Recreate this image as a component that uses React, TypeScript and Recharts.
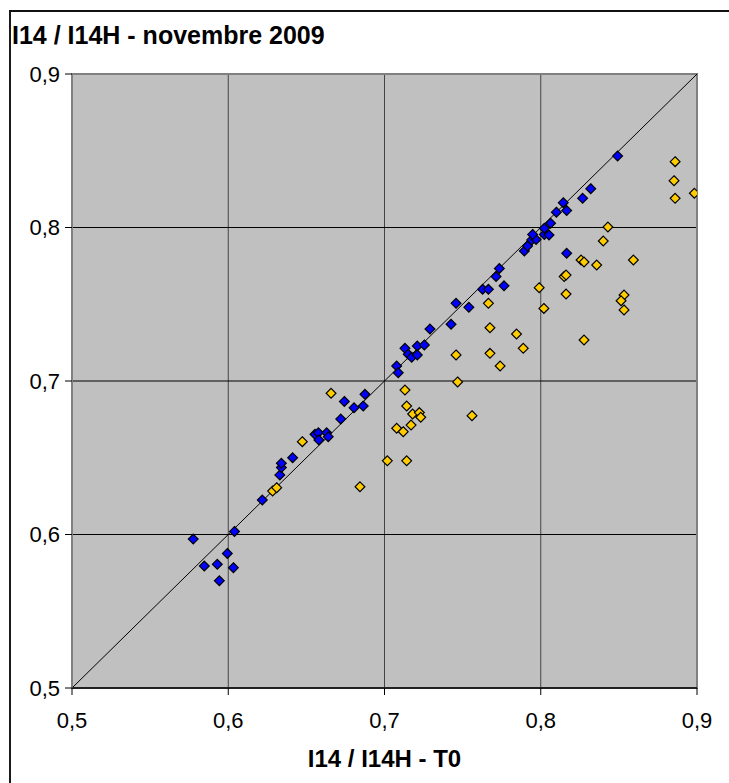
import React from "react";
import {
  ScatterChart,
  Scatter,
  XAxis,
  YAxis,
  CartesianGrid,
  ReferenceLine,
  ReferenceArea,
} from "recharts";

// I14 / I14H ratio: T0 (x) against November 2009 (y)
const blueSeries: { x: number; y: number }[] = [
  { x: 0.5776, y: 0.597 },
  { x: 0.604, y: 0.602 },
  { x: 0.5994, y: 0.5877 },
  { x: 0.5847, y: 0.5795 },
  { x: 0.593, y: 0.5806 },
  { x: 0.6033, y: 0.5784 },
  { x: 0.5943, y: 0.5699 },
  { x: 0.6218, y: 0.6225 },
  { x: 0.633, y: 0.6388 },
  { x: 0.634, y: 0.6436 },
  { x: 0.634, y: 0.6464 },
  { x: 0.6412, y: 0.65 },
  { x: 0.6555, y: 0.6653 },
  { x: 0.6577, y: 0.6663 },
  { x: 0.663, y: 0.6663 },
  { x: 0.658, y: 0.6616 },
  { x: 0.664, y: 0.6637 },
  { x: 0.672, y: 0.6752 },
  { x: 0.6743, y: 0.6867 },
  { x: 0.6805, y: 0.6826 },
  { x: 0.6864, y: 0.6837 },
  { x: 0.6875, y: 0.6913 },
  { x: 0.7078, y: 0.7098 },
  { x: 0.7088, y: 0.7054 },
  { x: 0.7131, y: 0.7213 },
  { x: 0.7152, y: 0.7174 },
  { x: 0.7174, y: 0.7154 },
  { x: 0.721, y: 0.7228 },
  { x: 0.721, y: 0.717 },
  { x: 0.7255, y: 0.7235 },
  { x: 0.7291, y: 0.7339 },
  { x: 0.7426, y: 0.737 },
  { x: 0.7458, y: 0.7506 },
  { x: 0.754, y: 0.748 },
  { x: 0.7628, y: 0.7597 },
  { x: 0.7665, y: 0.7597 },
  { x: 0.7765, y: 0.762 },
  { x: 0.7714, y: 0.768 },
  { x: 0.7735, y: 0.7733 },
  { x: 0.7895, y: 0.7847 },
  { x: 0.7916, y: 0.788 },
  { x: 0.7942, y: 0.7919 },
  { x: 0.797, y: 0.7922 },
  { x: 0.7948, y: 0.7955 },
  { x: 0.8023, y: 0.7955 },
  { x: 0.8053, y: 0.7951 },
  { x: 0.8023, y: 0.7995 },
  { x: 0.8063, y: 0.8028 },
  { x: 0.81, y: 0.81 },
  { x: 0.8166, y: 0.811 },
  { x: 0.8144, y: 0.8162 },
  { x: 0.8268, y: 0.819 },
  { x: 0.832, y: 0.8253 },
  { x: 0.8492, y: 0.8466 },
  { x: 0.8166, y: 0.7832 },
];

const yellowSeries: { x: number; y: number }[] = [
  { x: 0.6284, y: 0.6283 },
  { x: 0.631, y: 0.6305 },
  { x: 0.6474, y: 0.6605 },
  { x: 0.6658, y: 0.692 },
  { x: 0.6843, y: 0.6311 },
  { x: 0.7018, y: 0.648 },
  { x: 0.7142, y: 0.648 },
  { x: 0.7078, y: 0.6692 },
  { x: 0.712, y: 0.667 },
  { x: 0.717, y: 0.6713 },
  { x: 0.718, y: 0.6785 },
  { x: 0.7223, y: 0.6794 },
  { x: 0.7232, y: 0.6764 },
  { x: 0.7142, y: 0.6837 },
  { x: 0.7131, y: 0.6941 },
  { x: 0.7468, y: 0.6994 },
  { x: 0.756, y: 0.6774 },
  { x: 0.7458, y: 0.717 },
  { x: 0.7675, y: 0.718 },
  { x: 0.774, y: 0.7098 },
  { x: 0.7888, y: 0.7213 },
  { x: 0.7845, y: 0.7306 },
  { x: 0.7675, y: 0.7347 },
  { x: 0.7665, y: 0.7506 },
  { x: 0.799, y: 0.7608 },
  { x: 0.802, y: 0.7473 },
  { x: 0.8162, y: 0.7567 },
  { x: 0.815, y: 0.768 },
  { x: 0.8162, y: 0.769 },
  { x: 0.8277, y: 0.7267 },
  { x: 0.8258, y: 0.7788 },
  { x: 0.8277, y: 0.7775 },
  { x: 0.8358, y: 0.7756 },
  { x: 0.8593, y: 0.7788 },
  { x: 0.8533, y: 0.756 },
  { x: 0.8514, y: 0.7523 },
  { x: 0.8533, y: 0.7463 },
  { x: 0.84, y: 0.7912 },
  { x: 0.843, y: 0.8003 },
  { x: 0.886, y: 0.8429 },
  { x: 0.8853, y: 0.8305 },
  { x: 0.886, y: 0.819 },
  { x: 0.8983, y: 0.8223 },
];

const axisTicks = [0.5, 0.6, 0.7, 0.8, 0.9];
const axisDomain: [number, number] = [0.5, 0.9];
const chartTitle = "I14 / I14H - novembre 2009";
const xAxisTitle = "I14 / I14H - T0";

const FONT = "Arial, 'Liberation Sans', sans-serif";
const formatTick = (v: number) => v.toFixed(1).replace(".", ",");

const makeDiamond = (fill: string) => (props: any) => {
  const { cx, cy } = props;
  if (cx == null || cy == null) return <g />;
  const r = 4.9;
  return (
    <polygon
      points={`${cx},${cy - r} ${cx + r},${cy} ${cx},${cy + r} ${cx - r},${cy}`}
      fill={fill}
      stroke="#000"
      strokeWidth={1.2}
    />
  );
};

export default function App() {
  return (
    <div
      style={{
        position: "fixed",
        left: 0,
        top: 0,
        width: 729,
        height: 783,
        background: "#fff",
      }}
    >
      {/* chart frame: left edge and top edge */}
      <div
        style={{
          position: "absolute",
          left: 9,
          top: 10,
          width: 2,
          height: 773,
          background: "#1a1a1a",
        }}
      />
      <div
        style={{
          position: "absolute",
          left: 9,
          top: 10,
          width: 720,
          height: 2,
          background: "#111",
        }}
      />
      <div
        style={{
          position: "absolute",
          left: 12,
          top: 23,
          fontFamily: FONT,
          fontWeight: "bold",
          fontSize: 25,
          lineHeight: "25px",
          color: "#000",
          whiteSpace: "nowrap",
          zIndex: 2,
        }}
      >
        {chartTitle}
      </div>
      <div style={{ position: "absolute", left: 0, top: 0 }}>
        <ScatterChart
          width={729}
          height={783}
          margin={{ top: 74, right: 32, bottom: 28, left: 0 }}
        >
          <CartesianGrid
            horizontal={false}
            stroke="#444"
            fill="#c0c0c0"
            fillOpacity={1}
          />
          <CartesianGrid vertical={false} stroke="#000" />
          <ReferenceArea
            x1={0.5}
            x2={0.9}
            y1={0.5}
            y2={0.9}
            fill="none"
            stroke="#808080"
            strokeWidth={2}
            ifOverflow="visible"
          />
          <ReferenceLine
            segment={[
              { x: 0.5, y: 0.5 },
              { x: 0.9, y: 0.9 },
            ]}
            stroke="#000"
            strokeWidth={1}
          />
          <XAxis
            type="number"
            dataKey="x"
            domain={axisDomain}
            ticks={axisTicks}
            tickFormatter={formatTick}
            allowDataOverflow
            height={67}
            tickSize={7}
            tickMargin={17}
            axisLine={{ stroke: "#000", strokeWidth: 1.5 }}
            tickLine={{ stroke: "#000" }}
            tick={{ fill: "#000", fontSize: 22, fontFamily: FONT }}
            label={{
              value: xAxisTitle,
              position: "insideBottom",
              offset: -12,
              fill: "#000",
              fontSize: 24,
              fontWeight: "bold",
              fontFamily: FONT,
            }}
          />
          <YAxis
            type="number"
            dataKey="y"
            domain={axisDomain}
            ticks={axisTicks}
            tickFormatter={formatTick}
            allowDataOverflow
            width={72}
            tickSize={7}
            tickMargin={5}
            axisLine={{ stroke: "#808080", strokeWidth: 1 }}
            tickLine={{ stroke: "#000" }}
            tick={{ fill: "#000", fontSize: 22, fontFamily: FONT }}
          />
          <Scatter
            data={blueSeries}
            shape={makeDiamond("#0000ff")}
            isAnimationActive={false}
          />
          <Scatter
            data={yellowSeries}
            shape={makeDiamond("#ffcc00")}
            isAnimationActive={false}
          />
        </ScatterChart>
      </div>
    </div>
  );
}
